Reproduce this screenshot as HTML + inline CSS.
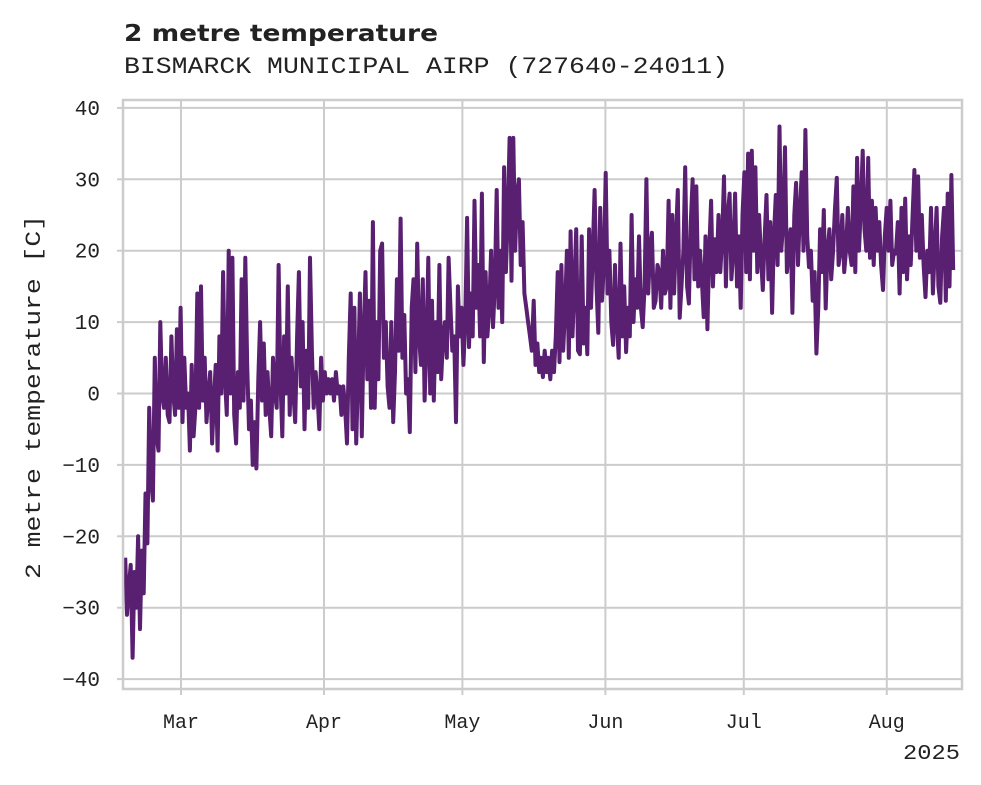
<!DOCTYPE html>
<html><head><meta charset="utf-8"><style>
body{margin:0;background:#fff;width:981px;height:785px;overflow:hidden}
svg{display:block}
</style></head><body>
<svg id="chart" width="981" height="785" xmlns="http://www.w3.org/2000/svg">
<text x="124" y="41" font-family="DejaVu Sans, Liberation Sans, sans-serif" font-weight="bold" font-size="23" textLength="314" lengthAdjust="spacingAndGlyphs" fill="#222">2 metre temperature</text>
<text x="124" y="73" font-family="Liberation Mono, monospace" font-size="23" textLength="604" lengthAdjust="spacingAndGlyphs" fill="#222">BISMARCK MUNICIPAL AIRP (727640-24011)</text>
<text transform="translate(40,397) rotate(-90)" text-anchor="middle" font-family="Liberation Mono, monospace" font-size="22" textLength="364" lengthAdjust="spacingAndGlyphs" fill="#222">2 metre temperature [C]</text>
<text x="960" y="759" text-anchor="end" font-family="Liberation Mono, monospace" font-size="21" textLength="57" lengthAdjust="spacingAndGlyphs" fill="#222">2025</text>
<g id="grid"></g><g id="series"></g><g id="axes"></g>
</svg>
<script>
const yTicks = [40,30,20,10,0,-10,-20,-30,-40];
const yTickLabels = ["40","30","20","10","0","\u221210","\u221220","\u221230","\u221240"];
const monthLabels = ["Mar","Apr","May","Jun","Jul","Aug"];
const monthDays = [0,31,61,92,122,153]; // days since Mar 1
const startDay = -12.1, endDay = 167.4; // first / last sample, days since Mar 1
const temps = [-23,-31,-27,-24,-37,-25,-30,-20,-33,-22,-28,-14,-21,-2,-12,-15,5,-6,-8,10,0,-2,5,-3,-4,8,0,-3,9,-2,12,-4,5,-2,0,-8,
4,-6,-2,14,-2,15,-1,5,-4,0,3,-7,-1,4,-8,8,0,17,2,-3,20,0,19,-3,-7,3,-2,16,-1,19,4,-5,-1,-10,-4,-10.5,2,10,-1,7,-3,3,-2,-6,5,0,-2,18,2,-6,8,0,15,-3,5,0,-4,8,17,1,10,-5,6,-2,19,6,-2,3,0,-5,5,-1,3,0,2,
0,2,-1,3,0,1,-3,1,-2,-7,5,14,-5,12,-7,3,14,-6,8,17,2,13,-2,24,-2,10,2,20,21,5,10,1,-2,10,-4,3,16,6,24.5,5,11,0,2,-5.4,12,16,3,21,8,4,16,-1,7,19,0,13,-1,10,3,18,2,8,10,5,19,12,6,8,-4,15,8,12,4,10,24.6,6.5,14,8,27,12,18,8,28,4.4,17,8,12,20,9.3,15,28.5,12,20,10,31.7,17,25,35.8,15.8,35.8,20,28,30,18,24,14,12,10,8,6,13,4,7,3,5,2.3,6,3,5,2,6,3,8,17,4.4,18,6,12,20,5,22.7,8,15,23,6,5.5,22,7,12,5.5,23,12,20,28.5,15,8.5,26,13,18,30.9,14,20,10,6.8,18,10,5,21,8,15,5.8,12,8,25,10,16,12,22,12,9.3,15,30,14,20,22.5,12,13,18,17,12,20,14,15,27,12,25,14,22,28.5,10.6,15,20,31.7,15,12.6,24,30,16,29,15,20,16,10.7,22,9,20,27,15,21.6,17,25,17,22,30.4,15,25,28,16,20,28,15,22,12,25,31,17,33.6,16,34,20,31.7,17,25,19,14.5,22,27.8,16,24,11.3,22,27.8,18,37.4,20,24,34.5,17,20,23,11.3,25,29.5,18,25,31,20,36.9,22,17.7,20,13,17,5.6,12,23,17,25.7,11.9,20,23,16,20,25.7,30.2,18,20,25,17,20,26,20,18,29,17,33,20,26,34,23,20,33,19,27,18,26,20,24,18,14.5,22,26,20,27,18,20,19.6,24,14,26,17,27.3,16,22,18,25,31.3,20,30.4,19,25,18,13.5,20,17,26,14,20,26,15,12.7,22,26,13,28,15,30.6,17.3];

const NS = "http://www.w3.org/2000/svg";
const L = 123, R = 962, T = 100, B = 689;
const xScale = d => 181 + d * 4.613;
const yScale = v => 393.5 - v * 7.14;
function mk(tag, attrs, parent){const e=document.createElementNS(NS,tag);for(const k in attrs)e.setAttribute(k,attrs[k]);parent.appendChild(e);return e;}
const grid=document.getElementById('grid'), series=document.getElementById('series'), axes=document.getElementById('axes');

yTicks.forEach((t,i)=>{
  const y=yScale(t);
  const g=mk('line',{x1:L,x2:R,y1:y,y2:y,stroke:'#cccccc','stroke-width':2},grid);
  
  
  const tk=mk('line',{x1:L-6,x2:L,y1:y,y2:y,stroke:'#cccccc','stroke-width':2},axes);
  
  
  const tx=mk('text',{x:100,y:y+7,'text-anchor':'end','font-family':'Liberation Mono, monospace','font-size':21,fill:'#222'},axes);
  tx.textContent=yTickLabels[i];
  
  
});
monthDays.forEach((d,i)=>{
  const x=xScale(d);
  const g=mk('line',{x1:x,x2:x,y1:T,y2:B,stroke:'#cccccc','stroke-width':2},grid);
  
  
  const tk=mk('line',{x1:x,x2:x,y1:B,y2:B+6,stroke:'#cccccc','stroke-width':2},axes);
  
  
  const tx=mk('text',{x:x,y:728,'text-anchor':'middle','font-family':'Liberation Mono, monospace','font-size':20,fill:'#222'},axes);
  tx.textContent=monthLabels[i];
  
  
});
const frame=mk('rect',{x:L,y:T,width:R-L,height:B-T,fill:'none',stroke:'#cccccc','stroke-width':2.5},axes);



const n=temps.length, step=(endDay-startDay)/(n-1);
const pts=temps.map((v,i)=>xScale(startDay+i*step).toFixed(1)+','+yScale(v).toFixed(1)).join(' ');
const line=mk('polyline',{points:pts,fill:'none',stroke:'#591f70','stroke-width':4,'stroke-linejoin':'round'},series);


</script>
</body></html>
